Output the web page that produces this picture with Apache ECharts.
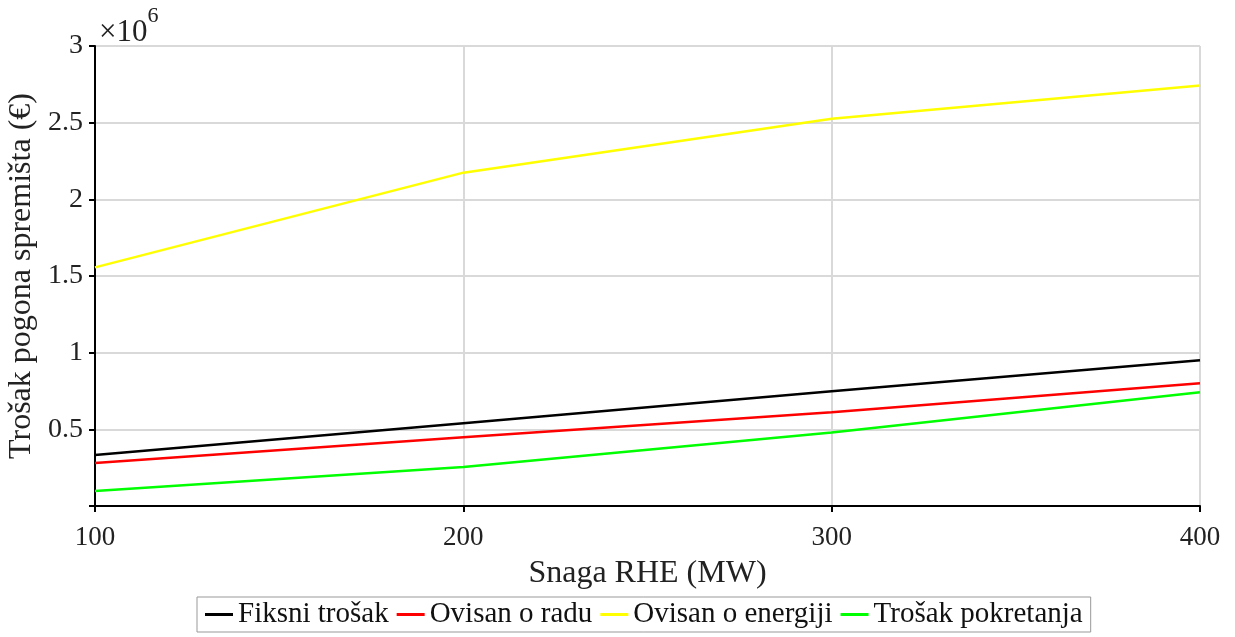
<!DOCTYPE html>
<html>
<head>
<meta charset="utf-8">
<script src="https://cdn.jsdelivr.net/npm/echarts@6/dist/echarts.min.js"></script>
<style>
  html, body { margin: 0; padding: 0; background: #fff; }
  #chart { width: 1235px; height: 637px; }
</style>
</head>
<body>
<div id="chart"></div>
<script>
const SNAGA = [100, 200, 300, 400];
const FIKSNI = [332000, 540000, 748000, 950000];
const OVISAN_RAD = [280000, 449000, 612000, 800000];
const OVISAN_ENERGIJA = [1556000, 2174000, 2526000, 2742000];
const POKRETANJE = [98000, 254000, 480000, 742000];

const FONT = '"Liberation Serif", "DejaVu Serif", serif';

function pairs(vals) {
    return SNAGA.map((x, i) => [x, vals[i]]);
}

function line(name, vals, color) {
    return {
        name: name,
        type: 'line',
        data: pairs(vals),
        symbol: 'none',
        lineStyle: { color: color, width: 2.5 },
        itemStyle: { color: color }
    };
}

const chart = echarts.init(document.getElementById('chart'));

chart.setOption({
    animation: false,
    textStyle: { fontFamily: FONT },
    grid: { left: 95, right: 35, top: 46, bottom: 131, outerBoundsMode: 'none', containLabel: false },
    title: {
        text: '{a|×10}{b|6}',
        left: 94,
        top: 0,
        textStyle: {
            fontWeight: 'normal',
            rich: {
                a: { fontFamily: FONT, fontSize: 31, fontWeight: 'normal', color: '#222', verticalAlign: 'bottom', padding: [12, 0, 0, 0] },
                b: { fontFamily: FONT, fontSize: 22, fontWeight: 'normal', color: '#222', verticalAlign: 'top' }
            }
        }
    },
    xAxis: {
        type: 'value',
        min: 100,
        max: 400,
        interval: 100,
        name: 'Snaga RHE (MW)',
        nameLocation: 'middle',
        nameGap: 52,
        nameTextStyle: { fontFamily: FONT, fontSize: 32, color: '#222' },
        axisLine: { show: true, lineStyle: { color: '#000', width: 2 } },
        axisTick: { show: true, inside: false, length: 6, lineStyle: { color: '#000', width: 2 } },
        axisLabel: { fontFamily: FONT, fontSize: 27, color: '#222', margin: 18 },
        splitLine: { show: true, lineStyle: { color: '#d9d9d9', width: 2 } }
    },
    yAxis: {
        type: 'value',
        min: 0,
        max: 3000000,
        interval: 500000,
        name: 'Trošak pogona spremišta (€)',
        nameLocation: 'middle',
        nameGap: 55,
        nameRotate: 90,
        nameTextStyle: { fontFamily: FONT, fontSize: 32, color: '#222' },
        axisLine: { show: true, lineStyle: { color: '#000', width: 2 } },
        axisTick: { show: true, inside: false, length: 6, lineStyle: { color: '#000', width: 2 } },
        axisLabel: {
            fontFamily: FONT,
            fontSize: 28,
            color: '#222',
            margin: 12,
            formatter: function(v) {
                if (v === 0) return '';
                return String(v / 1000000);
            }
        },
        splitLine: { show: true, lineStyle: { color: '#d9d9d9', width: 2 } }
    },
    legend: {
        bottom: 5,
        left: 197,
        itemWidth: 28,
        itemHeight: 3,
        itemGap: 8,
        padding: [3, 8, 3, 8],
        borderColor: '#999',
        borderWidth: 1,
        borderRadius: 0,
        icon: 'rect',
        textStyle: { fontFamily: FONT, fontSize: 29, color: '#111' },
        data: ['Fiksni trošak', 'Ovisan o radu', 'Ovisan o energiji', 'Trošak pokretanja']
    },
    series: [
        line('Fiksni trošak', FIKSNI, '#000000'),
        line('Ovisan o radu', OVISAN_RAD, '#ff0000'),
        line('Ovisan o energiji', OVISAN_ENERGIJA, '#ffff00'),
        line('Trošak pokretanja', POKRETANJE, '#00ff00')
    ]
});
</script>
</body>
</html>
